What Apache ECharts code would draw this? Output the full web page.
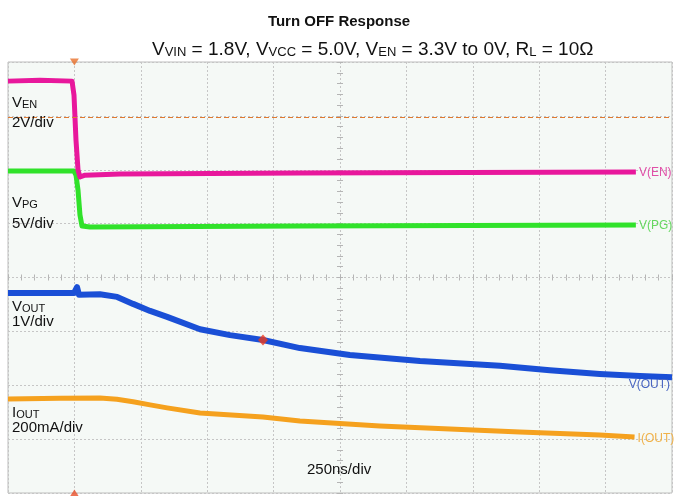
<!DOCTYPE html>
<html><head><meta charset="utf-8">
<script src="https://cdn.jsdelivr.net/npm/echarts@6/dist/echarts.min.js"></script>
<style>html,body{margin:0;padding:0;background:#fff}#c{width:678px;height:496px}</style>
</head><body><div id="c"></div>
<script>
// ---- data (read from the scope shot) ----
// horizontal: 250 ns/div, trigger at t = 0
const timeTicksNs = [-250, 0, 250, 500, 750, 1000, 1250, 1500, 1750, 2000, 2250];
// V(EN), volts, 2 V/div
const enTimeNs = [-250, -130, -9, -1.5, 6, 13.6, 21, 40, 172, 850, 2114];
const enVolts  = [3.43, 3.46, 3.43, 2.91, 1.24, 0.13, -0.13, -0.06, -0.02, 0.02, 0.06];
// V(PG), volts, 5 V/div
const pgTimeNs = [-250, -1.5, 6, 13.6, 21, 28.6, 59, 850, 2114];
const pgVolts  = [5.08, 5.08, 4.71, 3.31, 1.0, -0.02, -0.12, -0.02, 0.07];
// V(OUT), volts, 1 V/div
const voutTimeNs = [-250, -1.5, 10, 17, 96, 161, 221, 285, 349, 473, 586, 710, 849, 1037, 1301, 1602, 1790, 1978, 2129, 2250];
const voutVolts  = [1.81, 1.81, 1.92, 1.78, 1.79, 1.74, 1.61, 1.48, 1.37, 1.14, 1.03, 0.94, 0.79, 0.66, 0.55, 0.46, 0.38, 0.31, 0.27, 0.25];
// I(OUT), mA, 200 mA/div
const ioutTimeNs = [-250, -54, 96, 160, 221, 285, 349, 473, 710, 849, 1150, 1414, 1677, 1978, 2109];
const ioutMilliA = [185, 188, 189, 184, 175, 163, 152, 133, 118, 103, 85, 74, 62, 51, 44];
// trigger level (V(EN)) and cursor on V(OUT)
const triggerLevelVolts = 2.1;
const cursorTimeNs = 710;
const cursorVoutVolts = 0.94;

// channel scales: units per division and ground position (division index from bottom)
const CH = {
  en:   {perDiv: 2,   zero: 5.93},
  pg:   {perDiv: 5,   zero: 4.96},
  vout: {perDiv: 1,   zero: 1.90},
  iout: {perDiv: 200, zero: 0.82}
};
const toDiv = (ch, t, v) => t.map((x, i) => [x, v[i] / CH[ch].perDiv + CH[ch].zero]);

const COL = {en: '#e8189c', pg: '#30e22a', vout: '#1a4fd6', iout: '#f5a11e'};
const LBL = {en: '#e050a8', pg: '#66d860', vout: '#4a66c2', iout: '#f0b24a'};
const FONT = 'Liberation Sans, Arial, sans-serif';

const chart = echarts.init(document.getElementById('c'), null, {renderer: 'canvas'});
const gridRect = {left: 8, top: 62, width: 664, height: 431};
const splitStyle = {show: true, lineStyle: {color: '#c6c6c6', type: [2, 2], width: 1}};

function line(name, ch, t, v, lblText, lblOpt, width) {
  return {
    name, type: 'line', xAxisIndex: 0, yAxisIndex: 0, data: toDiv(ch, t, v),
    symbol: 'none', smooth: false, animation: false, silent: true,
    lineStyle: {color: COL[ch], width: width, join: 'round', cap: 'butt'},
    endLabel: Object.assign({show: true, formatter: lblText, color: LBL[ch], fontSize: 12,
      fontFamily: FONT}, lblOpt),
    z: 3
  };
}

const richT = {
  v: {fontSize: 15, fontFamily: FONT, color: '#111', verticalAlign: 'bottom'},
  s: {fontSize: 11, fontFamily: FONT, color: '#111', verticalAlign: 'bottom'}
};
function txt(left, top, text, size) {
  return {type: 'text', left, top, silent: true, z: 10,
    style: {text, rich: richT, fill: '#111', fontSize: size || 15, fontFamily: FONT}};
}

const option = {
  animation: false,
  backgroundColor: '#ffffff',
  title: [{
    text: 'Turn OFF Response', left: 'center', top: 9,
    textStyle: {fontSize: 15, fontWeight: 'bold', color: '#111', fontFamily: FONT}
  }, {
    text: '{v|V}{s|VIN}{v| = 1.8V, V}{s|VCC}{v| = 5.0V, V}{s|EN}{v| = 3.3V to 0V, R}{s|L}{v| = 10Ω}',
    left: 147, top: 35,
    textStyle: {fontWeight: 'normal', rich: {
      v: {fontSize: 19, fontWeight: 'normal', fontFamily: FONT, color: '#111', verticalAlign: 'bottom'},
      s: {fontSize: 13, fontWeight: 'normal', fontFamily: FONT, color: '#111', verticalAlign: 'bottom'}
    }}
  }],
  grid: [
    Object.assign({show: true, backgroundColor: '#f5f9f6', borderColor: '#bdbdbd', borderWidth: 1}, gridRect),
    Object.assign({show: false}, gridRect),
    Object.assign({show: false}, gridRect)
  ],
  xAxis: [
    {type: 'value', gridIndex: 0, min: -250, max: 2250, interval: 250,
     axisLine: {show: false}, axisTick: {show: false}, axisLabel: {show: false}, splitLine: splitStyle},
    {type: 'value', gridIndex: 1, min: -5, max: 5, interval: 0.2,
     axisLine: {show: false, onZero: true}, axisTick: {show: true, inside: true, length: 3, lineStyle: {color: '#b5b5b5'}},
     axisLabel: {show: false}, splitLine: {show: false}},
    {type: 'value', gridIndex: 2, min: -5, max: 5, interval: 0.2,
     axisLine: {show: false, onZero: true}, axisTick: {show: true, inside: false, length: 3, lineStyle: {color: '#b5b5b5'}},
     axisLabel: {show: false}, splitLine: {show: false}}
  ],
  yAxis: [
    {type: 'value', gridIndex: 0, min: 0, max: 8, interval: 1,
     axisLine: {show: false}, axisTick: {show: false}, axisLabel: {show: false}, splitLine: splitStyle},
    {type: 'value', gridIndex: 1, min: -4, max: 4, interval: 0.2,
     axisLine: {show: false, onZero: true}, axisTick: {show: true, inside: true, length: 3, lineStyle: {color: '#b5b5b5'}},
     axisLabel: {show: false}, splitLine: {show: false}},
    {type: 'value', gridIndex: 2, min: -4, max: 4, interval: 0.2,
     axisLine: {show: false, onZero: true}, axisTick: {show: true, inside: false, length: 3, lineStyle: {color: '#b5b5b5'}},
     axisLabel: {show: false}, splitLine: {show: false}}
  ],
  series: [
    line('I(OUT)', 'iout', ioutTimeNs, ioutMilliA, 'I(OUT)', {distance: 0, offset: [3, 2]}, 5),
    line('V(OUT)', 'vout', voutTimeNs, voutVolts, 'V(OUT)', {distance: 0, align: 'right', offset: [-2, 8]}, 6),
    line('V(PG)', 'pg', pgTimeNs, pgVolts, 'V(PG)', {distance: 0, offset: [3, 1]}, 5),
    Object.assign(line('V(EN)', 'en', enTimeNs, enVolts, 'V(EN)', {distance: 0, offset: [3, 1]}, 5), {
      markLine: {silent: true, symbol: 'none', animation: false, label: {show: false},
        lineStyle: {color: '#e07a30', type: [5, 3], width: 1},
        data: [{yAxis: triggerLevelVolts / CH.en.perDiv + CH.en.zero}]}
    }),
    {type: 'scatter', silent: true, animation: false, clip: false, z: 6,
     data: [[0, 8]], symbol: 'triangle', symbolRotate: 180, symbolSize: [9, 7], itemStyle: {color: '#e8702a'}},
    {type: 'scatter', silent: true, animation: false, clip: false, z: 6,
     data: [[0, 0]], symbol: 'triangle', symbolSize: [9, 7], itemStyle: {color: '#e8502a'}},
    {type: 'scatter', silent: true, animation: false, clip: false, z: 6,
     data: [[cursorTimeNs, cursorVoutVolts / CH.vout.perDiv + CH.vout.zero]], symbol: 'diamond', symbolSize: [10, 11],
     itemStyle: {color: '#ee3a1c'}}
  ],
  graphic: [
    txt(12, 95, '{v|V}{s|EN}'), txt(12, 115, '2V/div'),
    txt(12, 195, '{v|V}{s|PG}'), txt(12, 216, '5V/div'),
    txt(12, 299, '{v|V}{s|OUT}'), txt(12, 314, '1V/div'),
    txt(12, 405, '{v|I}{s|OUT}'), txt(12, 420, '200mA/div'),
    txt(307, 462, '250ns/div')
  ]
};
chart.setOption(option);
</script></body></html>
